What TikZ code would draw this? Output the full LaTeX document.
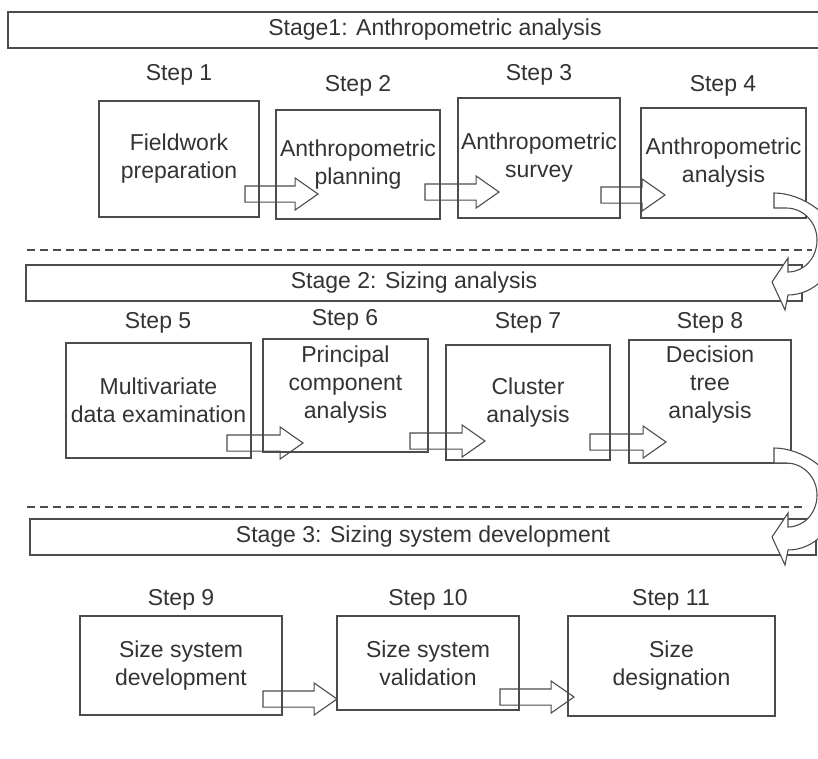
\documentclass[tikz,border=0pt]{standalone}
\usepackage{fontspec}
\setmainfont{Liberation Sans}
\usetikzlibrary{shapes.arrows}
\definecolor{inkgray}{rgb}{0.2,0.2,0.2}
\definecolor{linegray}{rgb}{0.3,0.3,0.3}
\tikzstyle{stepbox} = [rectangle, draw=linegray, line width=1.2pt, align=center, inner sep=2pt]
\tikzstyle{stagebar} = [rectangle, draw=linegray, line width=1.2pt, minimum height=36pt, inner sep=0pt]
\tikzstyle{blockarrow} = [single arrow, draw=linegray, line width=1.1pt, inner xsep=0pt, inner ysep=7.5pt, minimum width=0pt, single arrow head extend=8pt, single arrow tip angle=70, anchor=tip, outer sep=0pt]
\tikzstyle{turnarrow} = [draw=linegray, line width=1.1pt, fill=white]
\tikzstyle{divider} = [dash pattern=on 8pt off 5pt, line width=1.6pt, draw=linegray]
\newcommand{\stagearrow}[1]{\draw[turnarrow, shift={(0,#1)}] (774,193) .. controls (802,193) and (837,216) .. (837,244) .. controls (837,272) and (814,295) .. (788,295) -- (785,310) -- (772,282) -- (788,258) -- (788,272) .. controls (804,272) and (817,258) .. (817,240) .. controls (817,222) and (803,208) .. (786,208) -- (774,208) -- cycle;}

\begin{document}
\begin{tikzpicture}[x=1pt, y=-1pt, every node/.style={text=inkgray, font=\fontsize{23}{28}\selectfont}]
\useasboundingbox (0,0) rectangle (818,758);
\node[stagebar, minimum width=854pt] (s1) at (435,30) {Stage1: Anthropometric analysis};
\node[stagebar, minimum width=776pt] (s2) at (414,283) {Stage 2: Sizing analysis};
\node[stagebar, minimum width=786pt] (s3) at (423,537) {Stage 3: Sizing system development};
\draw[divider] (27,250) -- (812,250);
\draw[divider] (27,507) -- (802,507);
\node (l1) at (179,75) {Step 1};
\node (l2) at (358,86) {Step 2};
\node (l3) at (539,75) {Step 3};
\node (l4) at (723,86) {Step 4};
\node[stepbox, minimum width=160pt, minimum height=116pt] (b1) at (179,159) {Fieldwork\\preparation};
\node[stepbox, minimum width=164pt, minimum height=109pt] (b2) at (358,164.5) {Anthropometric\\planning};
\node[stepbox, minimum width=162pt, minimum height=120pt] (b3) at (539,158) {Anthropometric\\survey};
\node[stepbox, minimum width=165pt, minimum height=110pt] (b4) at (723.5,163) {Anthropometric\\analysis};
\node[blockarrow, minimum height=73pt] (a12) at (318,194) {};
\node[blockarrow, minimum height=74pt] (a23) at (499,192) {};
\node[blockarrow, minimum height=64pt] (a34) at (665,195) {};
\node (l5) at (158,323) {Step 5};
\node (l6) at (345,320) {Step 6};
\node (l7) at (528,323) {Step 7};
\node (l8) at (710,323) {Step 8};
\node[stepbox, minimum width=185pt, minimum height=115pt] (b5) at (158.5,400.5) {Multivariate\\data examination};
\node[stepbox, minimum width=165pt, minimum height=113pt, text depth=26pt] (b6) at (345.5,395.5) {Principal\\component\\analysis};
\node[stepbox, minimum width=164pt, minimum height=115pt] (b7) at (528,402.5) {Cluster\\analysis};
\node[stepbox, minimum width=162pt, minimum height=123pt, text depth=38pt] (b8) at (710,401.5) {Decision\\tree\\analysis};
\node[blockarrow, minimum height=76pt] (a56) at (303,443) {};
\node[blockarrow, minimum height=75pt] (a67) at (485,441) {};
\node[blockarrow, minimum height=76pt] (a78) at (666,442) {};
\node (l9) at (181,600) {Step 9};
\node (l10) at (428,600) {Step 10};
\node (l11) at (671,600) {Step 11};
\node[stepbox, minimum width=202pt, minimum height=99pt] (b9) at (181,665.5) {Size system\\development};
\node[stepbox, minimum width=182pt, minimum height=94pt] (b10) at (428,663) {Size system\\validation};
\node[stepbox, minimum width=207pt, minimum height=100pt] (b11) at (671.5,666) {Size\\designation};
\node[blockarrow, minimum height=74pt] (a910) at (337,699) {};
\node[blockarrow, minimum height=74pt] (a1011) at (574,697) {};
\stagearrow{0}
\stagearrow{255}
\end{tikzpicture}
\end{document}
